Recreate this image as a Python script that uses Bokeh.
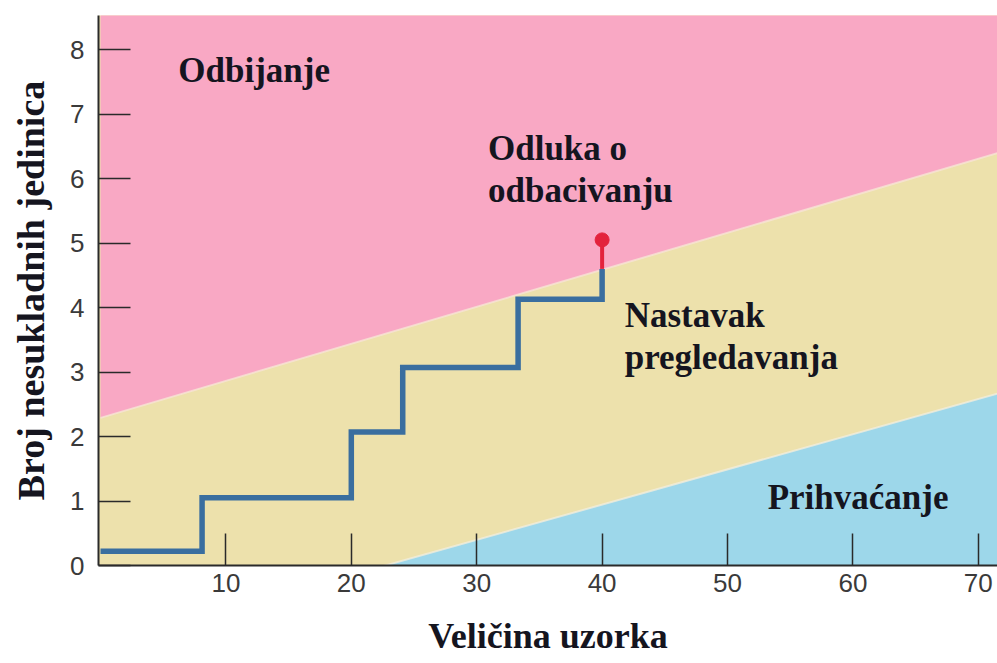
from bokeh.plotting import figure
from bokeh.models import Range1d, Label, FixedTicker
from bokeh.embed import file_html
from bokeh.resources import INLINE

# ---- data ----
x_bounds = [0, 71.6]
reject_line = [2.29, 6.40]     # upper decision boundary
accept_line = [-1.24, 2.67]    # lower decision boundary

step_x = [0, 8.1, 20, 24.1, 33.3, 40]
step_y = [0.22, 1.05, 2.07, 3.07, 4.13]
final_x = 40
cross_y = 4.6      # where the path crosses the rejection line
final_y = 5.05     # decision point

x_ticks = [10, 20, 30, 40, 50, 60, 70]
y_ticks = [0, 1, 2, 3, 4, 5, 6, 7, 8]

PINK = "#F9A8C4"
YELLOW = "#EDE1AC"
BLUE = "#9DD7EA"
PATH = "#3A6E9F"
RED = "#E3223C"
TXT = "#15151F"

p = figure(width=997, height=663, output_backend="svg", toolbar_location=None,
           x_range=Range1d(-0.16, 71.53), y_range=Range1d(0, 8.53),
           min_border_left=98, min_border_top=15, min_border_right=0, min_border_bottom=98)
p.outline_line_color = None
p.background_fill_color = YELLOW
p.border_fill_color = "white"
p.grid.visible = False

# regions
p.varea(x=x_bounds, y1=reject_line, y2=[20, 20], fill_color=PINK)
p.varea(x=x_bounds, y1=[-20, -20], y2=accept_line, fill_color=BLUE)
p.line(x_bounds, reject_line, line_color="#F7E4D6", line_width=2, line_alpha=0.8)
p.line(x_bounds, accept_line, line_color="#F3EEDC", line_width=2, line_alpha=0.8)

# sampling path
px, py = [], []
for i, y in enumerate(step_y):
    px += [step_x[i], step_x[i + 1]]
    py += [y, y]
px.append(final_x)
py.append(cross_y)
p.line(px, py, line_color=PATH, line_width=5.5, line_join="miter")
p.line([final_x, final_x], [cross_y, final_y], line_color=RED, line_width=4)
p.scatter([final_x], [final_y], size=14, fill_color=RED, line_color=RED)

# axes
for ax in (p.xaxis[0], p.yaxis[0]):
    ax.axis_line_color = "#2a2a2a"
    ax.axis_line_width = 2
    ax.major_tick_line_color = "#2a2a2a"
    ax.major_tick_line_width = 1.5
    ax.major_tick_out = 0
    ax.major_tick_in = 32
    ax.minor_tick_line_color = None
    ax.major_label_text_font = "Liberation Sans"
    ax.major_label_text_font_size = "26px"
    ax.major_label_text_color = "#3a3a3a"
    ax.axis_label_text_font = "Liberation Serif"
    ax.axis_label_text_font_style = "bold"
    ax.axis_label_text_color = TXT
p.xaxis.ticker = FixedTicker(ticks=x_ticks)
p.yaxis.ticker = FixedTicker(ticks=y_ticks)
p.xaxis.major_label_standoff = 8
p.yaxis.major_label_standoff = 14
p.xaxis.axis_label = "Veličina uzorka"
p.yaxis.axis_label = "Broj nesukladnih jedinica"
p.xaxis.axis_label_text_font_size = "36px"
p.yaxis.axis_label_text_font_size = "38px"
p.xaxis.axis_label_standoff = 21
p.yaxis.axis_label_standoff = 15

# region labels
def lab(x, y, t, size="35px"):
    p.add_layout(Label(x=x, y=y, text=t, text_font="Liberation Serif", text_font_style="bold",
                       text_font_size=size, text_color=TXT, text_baseline="middle", text_align="left"))

lab(6.2, 7.67, "Odbijanje")
lab(30.9, 6.47, "Odluka o")
lab(30.9, 5.81, "odbacivanju")
lab(41.8, 3.88, "Nastavak")
lab(41.8, 3.22, "pregledavanja")
lab(53.2, 1.05, "Prihvaćanje")

open("out.html", "w").write(file_html(p, INLINE))
